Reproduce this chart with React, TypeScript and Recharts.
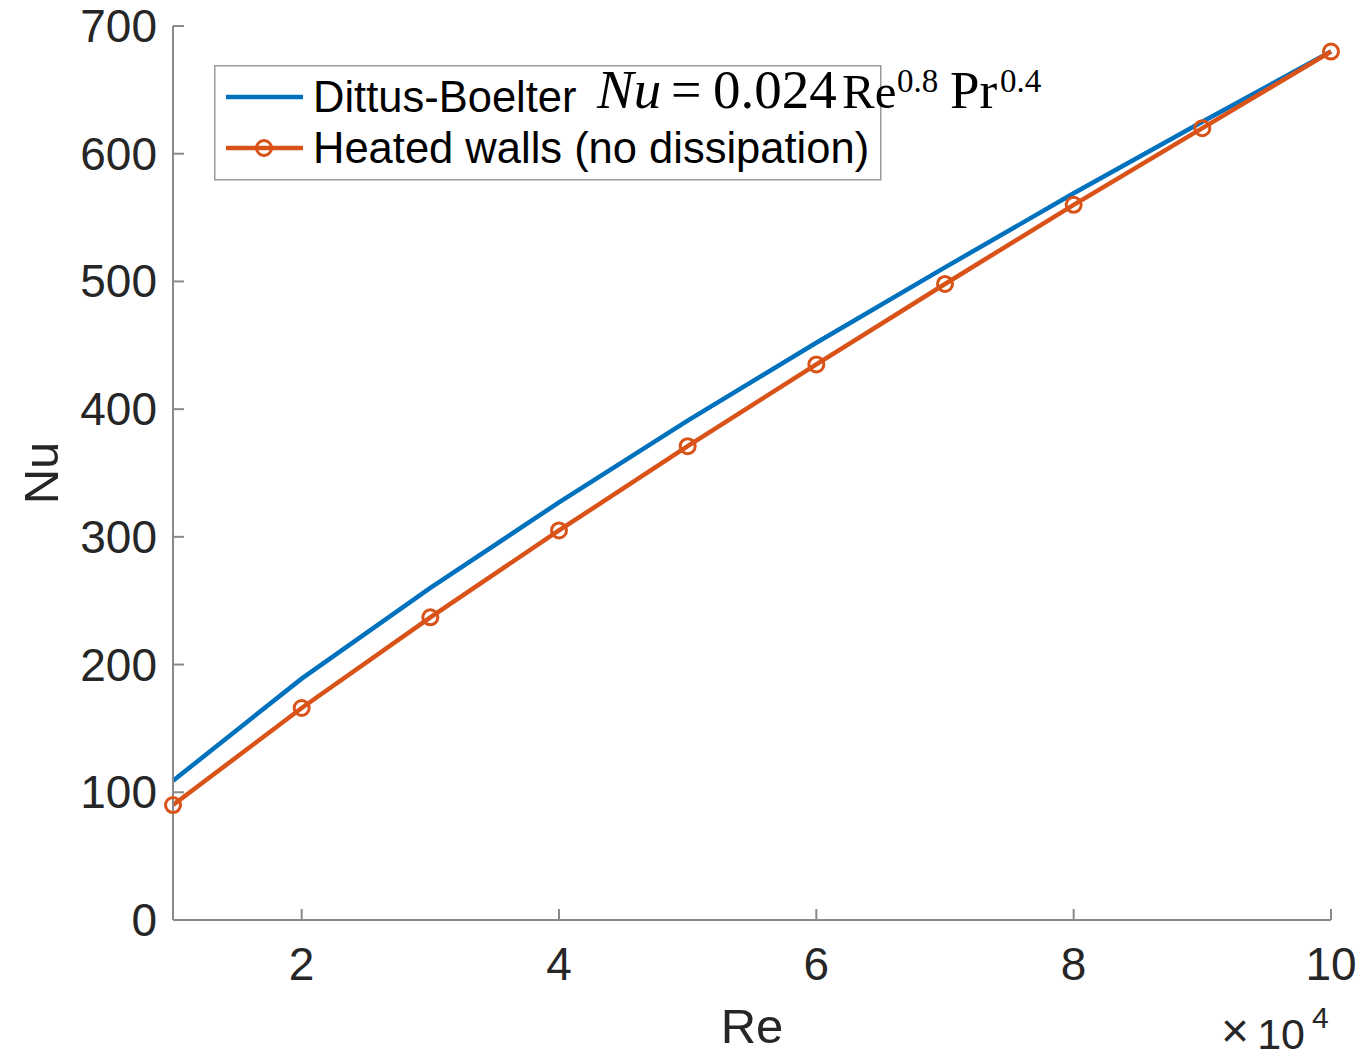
import React from 'react';
import { LineChart, Line, XAxis, YAxis, Legend } from 'recharts';

const reValues = [1, 2, 3, 4, 5, 6, 7, 8, 9, 10];
const dittusBoelter = [109, 189, 260, 327, 391, 452, 511, 569, 625, 680];
const heatedWalls = [90, 166, 237, 305, 371, 435, 498, 560, 620, 680];
const xTicks = [2, 4, 6, 8, 10];
const yTicks = [0, 100, 200, 300, 400, 500, 600, 700];

const BLUE = '#0072BD';
const ORANGE = '#D95319';
const AXIS = '#8a8a8a';
const TEXT = '#262626';
const SANS = '"Liberation Sans", Arial, Helvetica, sans-serif';
const SERIF = '"Liberation Serif", "Times New Roman", serif';

const data = reValues.map((re, i) => ({ re, db: dittusBoelter[i], hw: heatedWalls[i] }));

const XTick = (props: any) => {
  const { x, y, payload } = props;
  return (
    <g>
      <line x1={x} x2={x} y1={y} y2={y - 11} stroke={AXIS} strokeWidth={2} />
      <text x={x} y={y + 60} textAnchor="middle" fontFamily={SANS} fontSize={46} fill={TEXT}>
        {payload.value}
      </text>
    </g>
  );
};

const YTick = (props: any) => {
  const { x, y, payload } = props;
  return (
    <g>
      <line x1={x} x2={x + 11} y1={y} y2={y} stroke={AXIS} strokeWidth={2} />
      <text x={x - 16} y={y + 16} textAnchor="end" fontFamily={SANS} fontSize={46} fill={TEXT}>
        {payload.value}
      </text>
    </g>
  );
};

const XLabel = (props: any) => {
  const vb = props.viewBox || {};
  const cx = vb.x + vb.width / 2;
  const right = vb.x + vb.width;
  return (
    <g>
      <text x={cx} y={vb.y + 123} textAnchor="middle" fontFamily={SANS} fontSize={49} fill={TEXT}>
        Re
      </text>
      <text x={right - 82} y={vb.y + 127} textAnchor="end" fontFamily={SANS} fontSize={48} fill={TEXT}>
        ×
      </text>
      <text x={right - 26} y={vb.y + 129} textAnchor="end" fontFamily={SANS} fontSize={43} fill={TEXT}>
        10
      </text>
      <text x={right - 19} y={vb.y + 108} textAnchor="start" fontFamily={SANS} fontSize={30} fill={TEXT}>
        4
      </text>
    </g>
  );
};

const YLabel = (props: any) => {
  const vb = props.viewBox || {};
  const cy = vb.y + vb.height / 2;
  return (
    <text
      x={58}
      y={cy}
      transform={`rotate(-90, 58, ${cy})`}
      textAnchor="middle"
      fontFamily={SANS}
      fontSize={49}
      fill={TEXT}
    >
      Nu
    </text>
  );
};

const LegendContent = () => (
  <svg width={840} height={120} style={{ overflow: 'visible', display: 'block' }}>
    <rect x={0.75} y={0.75} width={666} height={114} fill="#ffffff" stroke="#9a9a9a" strokeWidth={1.5} />
    <line x1={12} x2={89} y1={32} y2={32} stroke={BLUE} strokeWidth={4.5} />
    <text x={99} y={47} fontFamily={SANS} fontSize={43.5} fill="#000">
      Dittus-Boelter
    </text>
    <g fontFamily={SERIF} fill="#000">
      <text x={383} y={43} fontSize={55} fontStyle="italic">Nu</text>
      <text x={457} y={43} fontSize={54}>=</text>
      <text x={499} y={43} fontSize={55}>0.024</text>
      <text x={628} y={43} fontSize={49}>Re</text>
      <text x={683} y={27} fontSize={33}>0.8</text>
      <text x={736} y={43} fontSize={53}>Pr</text>
      <text x={786} y={27} fontSize={33}>0.4</text>
    </g>
    <line x1={12} x2={89} y1={83} y2={83} stroke={ORANGE} strokeWidth={4.5} />
    <circle cx={50} cy={83} r={7.5} fill="none" stroke={ORANGE} strokeWidth={3} />
    <text x={99} y={98} fontFamily={SANS} fontSize={43.5} fill="#000">
      Heated walls (no dissipation)
    </text>
  </svg>
);

export default function App() {
  return (
    <div style={{ position: 'absolute', left: 0, top: 0, width: 1365, height: 1058, background: '#fff' }}>
      <LineChart width={1365} height={1058} data={data} margin={{ top: 26, right: 34, left: 0, bottom: 0 }}>
        <XAxis
          dataKey="re"
          type="number"
          domain={[1, 10]}
          ticks={xTicks}
          interval={0}
          height={138}
          tickSize={0}
          tickMargin={0}
          tickLine={false}
          axisLine={{ stroke: AXIS, strokeWidth: 2 }}
          tick={<XTick />}
          label={<XLabel />}
        />
        <YAxis
          type="number"
          domain={[0, 700]}
          ticks={yTicks}
          interval={0}
          width={173}
          tickSize={0}
          tickMargin={0}
          tickLine={false}
          axisLine={{ stroke: AXIS, strokeWidth: 2 }}
          tick={<YTick />}
          label={<YLabel />}
        />
        <Legend
          layout="vertical"
          align="center"
          verticalAlign="middle"
          content={<LegendContent />}
          wrapperStyle={{ position: 'absolute', left: 214, top: 65, width: 840, height: 120 }}
        />
        <Line
          type="linear"
          dataKey="db"
          name="Dittus-Boelter"
          stroke={BLUE}
          strokeWidth={4.5}
          dot={false}
          activeDot={false}
          isAnimationActive={false}
        />
        <Line
          type="linear"
          dataKey="hw"
          name="Heated walls (no dissipation)"
          stroke={ORANGE}
          strokeWidth={4.5}
          dot={{ r: 7.5, strokeWidth: 3, fill: 'none', stroke: ORANGE }}
          activeDot={false}
          isAnimationActive={false}
        />
      </LineChart>
    </div>
  );
}
